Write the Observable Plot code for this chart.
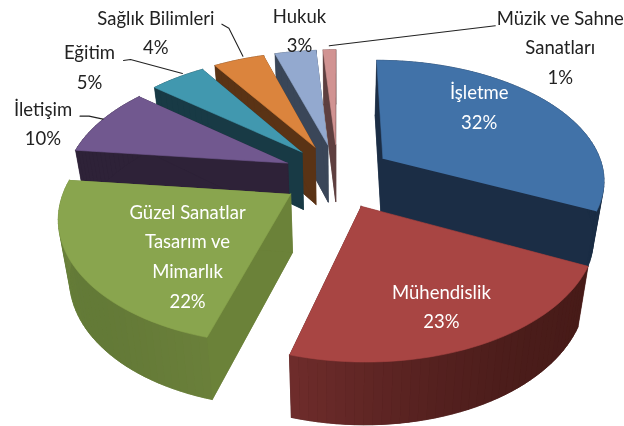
<!DOCTYPE html>
<html><head><meta charset="utf-8">
<script src="https://cdn.jsdelivr.net/npm/d3@7"></script>
<script src="https://cdn.jsdelivr.net/npm/@observablehq/plot@0.6"></script>
<style>html,body{margin:0;padding:0;background:#fff}svg{display:block;filter:blur(.4px)}</style>
</head><body><div id="chart"></div>
<script>
// --- data ---
const categories = ["İşletme","Mühendislik","Güzel Sanatlar\nTasarım ve\nMimarlık","İletişim","Eğitim","Sağlık Bilimleri","Hukuk","Müzik ve Sahne\nSanatları"];
const shares = [32,23,22,10,5,4,3,1];

// --- styles ---
const topColors = ["#4172a8","#a84543","#89a54e","#71588f","#4198af","#db843d","#93a9cf","#d19392"];
const sideColors = ["#1b2d45","#4a1c1a","#6b8239","#2e2238","#183a45","#5a3315","#3a4658","#5e3f3f"];
const rimRamps = [
  ["#1b2d45","#1b2d45"],["#471b18","#4a1c1a","#6e2c2b"],["#6a7f3a","#5e7535","#71893f"],
  ["#2e2238","#2e2238"],["#183a45","#183a45"],["#5a3315","#5a3315"],["#3a4658","#3a4658"],["#5e3f3f","#5e3f3f"]];
const labelColors = ["#fff","#fff","#fff","#222","#222","#222","#222","#222"];
const labelPlacement = [[.6,-6,-19],[.6,18,19],[.6,22,18],[1,-64,5],[1,-102,-8],[1,-96,-27],[1,-2,-23],[1,230,-5]];
const leaderOffsets = {3:[[-27,0],[-18,0],[-4,3]],4:[[-68,-12],[-61,-13],[-9,1]],5:[[-30,-33],[-23,-29],[-9,-1]],7:[[165,-24],[-1,-4]]};
const drawOrder = [7,6,5,4,3,0,2,1];

// --- pie geometry: perspective projection of the ground plane, with the
//     slight angular distortion the 3-D view shows at the back left ---
const CX=337, CY=175, A=229, B=124.3, K=.169, EX=.24, EV=.26, RU=.97, RV=.96, DEPTH=58, SHRINK=.96;
const total = d3.sum(shares);
const cum = d3.cumsum(shares);
const rad = Math.PI/180;
const viewAngle = d3.scaleLinear()
  .domain([0,115.2,198,277.2,313.2,331.2,345.6,356.4,360])
  .range([0,115.5,196,276.5,309.5,327,343,356,360]);
const angle = p => p/total*360;
const slices = shares.map((v,i)=>({i, a0:angle(i?cum[i-1]:0), a1:angle(cum[i])}));
function project(aDeg, midDeg, r){
  const a=aDeg*rad, m=midDeg*rad;
  const u=r*RU*Math.sin(a)+EX*Math.sin(m);
  const v=r*RV*Math.cos(a)+EV*Math.cos(m);
  const w=1+K*v;
  return {x:CX+A*u/w, y:CY-B*v/w, w};
}
const lower = p => ({x:CX+(p.x-CX)*SHRINK, y:p.y+DEPTH/Math.pow(p.w,.35)});

const layers=[]; let id=0;
const poly=(pts,color)=>{id++;for(const p of pts)layers.push({id,x:p.x,y:p.y,color});};
for(const k of drawOrder){
  const s=slices[k], v0=viewAngle(s.a0), v1=viewAngle(s.a1), mid=(v0+v1)/2;
  const n=Math.max(2,Math.ceil((v1-v0)/2));
  const rim=d3.range(n+1).map(j=>project(v0+(v1-v0)*j/n,mid,1));
  const apex=project(0,mid,0);
  const ramp=d3.interpolateRgbBasis(rimRamps[k]);
  poly([apex,lower(apex),lower(rim[0]),rim[0]],sideColors[k]);
  poly([apex,lower(apex),lower(rim[n]),rim[n]],sideColors[k]);
  poly([lower(apex),...rim.map(lower)],sideColors[k]);
  for(let j=0;j<n;j++) poly([rim[j],rim[j+1],lower(rim[j+1]),lower(rim[j])],ramp(j/(n-1||1)));
  poly([apex,...rim],topColors[k]);
}
const textRows=slices.map(s=>{
  const mid=(s.a0+s.a1)/2,[r,dx,dy]=labelPlacement[s.i],p=project(mid,mid,r);
  return {x:p.x+dx,y:p.y+dy,text:categories[s.i]+"\n"+shares[s.i]+"%",color:labelColors[s.i]};
});
const leaders=[];
for(const key of Object.keys(leaderOffsets)){
  const s=slices[key],mid=(s.a0+s.a1)/2,p=project(mid,mid,1);
  for(const [dx,dy] of leaderOffsets[key]) leaders.push({key,x:p.x+dx,y:p.y+dy});
}

const chart=Plot.plot({
  width:624,height:426,margin:0,
  style:{background:"#fff"},
  x:{domain:[0,624],range:[0,624],axis:null},
  y:{domain:[0,426],range:[0,426],axis:null},
  color:{type:"identity"},
  marks:[
    Plot.line(layers,{x:"x",y:"y",z:"id",fill:"color",stroke:"color",strokeWidth:.6,strokeLinejoin:"round"}),
    Plot.line(leaders,{x:"x",y:"y",z:"key",stroke:"#222",strokeWidth:1.1}),
    Plot.text(textRows,{x:"x",y:"y",text:"text",fill:"color",fontSize:18.5,lineHeight:1.6,textAnchor:"middle",lineAnchor:"middle",fontFamily:"Lato"})
  ]
});
document.getElementById("chart").append(chart);
</script></body></html>
